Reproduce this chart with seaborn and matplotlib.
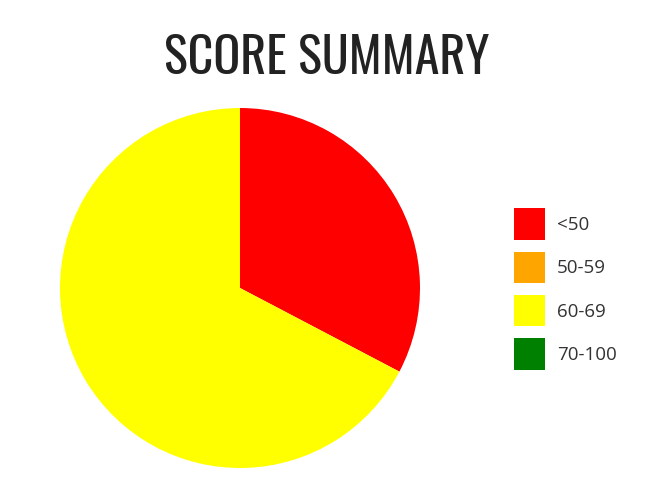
import matplotlib
matplotlib.use('Agg')
import matplotlib.pyplot as plt
from matplotlib.patches import Patch
import seaborn as sns

# score buckets and counts
labels = ['<50', '50-59', '60-69', '70-100']
counts = [17, 0, 35, 0]
colors = ['#ff0000', '#ffa500', '#ffff00', '#008000']

sns.set_theme(style='white')
plt.rcParams['font.family'] = ['Open Sans', 'DejaVu Sans']

fig = plt.figure(figsize=(6.5, 5), dpi=100)
ax = fig.add_axes([60 / 650, 32 / 500, 360 / 650, 360 / 500])
ax.pie(counts, colors=colors, startangle=90, counterclock=False,
       wedgeprops={'linewidth': 0})
ax.set_aspect('equal')
ax.set_xlim(-1, 1)
ax.set_ylim(-1, 1)
ax.axis('off')

fig.text(327 / 650, 1 - 59 / 500, 'SCORE SUMMARY', ha='center', va='center',
         fontsize=36, color='#222222', family=['Oswald', 'DejaVu Sans'])

handles = [Patch(facecolor=c, edgecolor='none', label=l) for c, l in zip(colors, labels)]
fig.legend(handles=handles, loc='center left', bbox_to_anchor=(514 / 650, 1 - 289 / 500),
           frameon=False, fontsize=13.5, handlelength=1.65, handleheight=2.2,
           handletextpad=0.64, labelspacing=0.64, borderpad=0, borderaxespad=0,
           labelcolor='#333333')

fig.savefig('out.png', dpi=100)
